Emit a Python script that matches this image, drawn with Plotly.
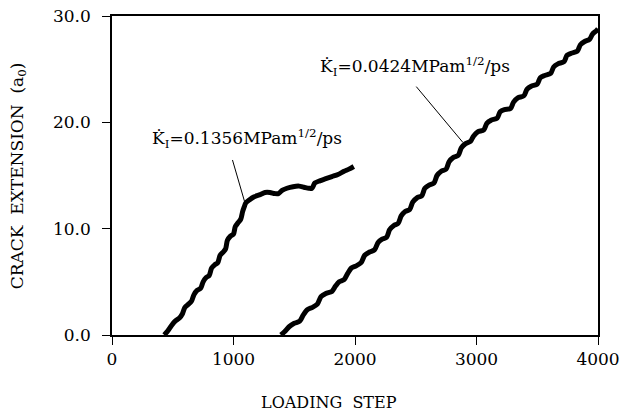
import plotly.graph_objects as go

# Curve 1: Kdot = 0.1356 MPa m^1/2 / ps
x_fast = [430, 460, 490, 520, 555, 580, 600, 630, 655, 675, 700, 730, 750, 775, 800, 820, 845, 870,
          890, 915, 935, 950, 975, 1000, 1015, 1040, 1060, 1075, 1090, 1100,
          1130, 1170, 1220, 1260, 1300, 1340, 1370, 1400, 1440, 1490, 1540, 1580, 1620, 1645,
          1670, 1710, 1760, 1810, 1860, 1910, 1950, 1990]
y_fast = [0.0, 0.4, 0.9, 1.3, 1.6, 2.0, 2.6, 2.9, 3.2, 3.8, 4.2, 4.4, 5.0, 5.4, 5.6, 6.3, 6.6, 6.8,
          7.5, 7.8, 8.1, 8.9, 9.3, 9.5, 10.2, 10.6, 10.9, 11.6, 12.1, 12.4,
          12.7, 13.0, 13.2, 13.4, 13.4, 13.3, 13.3, 13.6, 13.8, 13.95, 14.0, 13.9, 13.8, 13.8,
          14.3, 14.5, 14.7, 14.9, 15.1, 15.4, 15.6, 15.85]

# Curve 2: Kdot = 0.0424 MPa m^1/2 / ps
x_slow = [1390, 1420, 1460, 1500, 1545, 1575, 1610, 1650, 1690, 1720, 1760, 1810, 1840, 1870, 1910,
          1940, 1970, 2010, 2050, 2080, 2120, 2160, 2190, 2220, 2260, 2285, 2320, 2355, 2380, 2410,
          2450, 2475, 2510, 2550, 2575, 2610, 2650, 2675, 2710, 2750, 2775, 2810, 2850, 2875, 2910,
          2950, 2975, 3010, 3060, 3085, 3120, 3170, 3195, 3230, 3280, 3305, 3340, 3390, 3415, 3450,
          3500, 3525, 3560, 3610, 3635, 3670, 3720, 3745, 3780, 3830, 3855, 3890, 3930, 3955, 3985, 4000]
y_slow = [0.0, 0.3, 0.8, 1.1, 1.3, 1.9, 2.4, 2.6, 2.9, 3.6, 3.9, 4.1, 4.6, 5.0, 5.2,
          5.8, 6.3, 6.5, 6.8, 7.5, 7.8, 8.0, 8.7, 9.0, 9.2, 9.9, 10.3, 10.5, 11.2, 11.6,
          11.8, 12.5, 12.9, 13.1, 13.8, 14.1, 14.3, 15.0, 15.4, 15.6, 16.3, 16.7, 16.9, 17.6, 18.0,
          18.2, 18.7, 19.1, 19.3, 19.9, 20.2, 20.4, 21.0, 21.2, 21.3, 21.9, 22.3, 22.5, 23.1, 23.4,
          23.6, 24.2, 24.4, 24.6, 25.2, 25.5, 25.7, 26.3, 26.5, 26.7, 27.3, 27.6, 27.8, 28.3, 28.6, 28.8]

x_ticks = [0, 1000, 2000, 3000, 4000]
y_ticks = [0, 10, 20, 30]

label_fast = "K̇<sub>I</sub>=0.1356MPam<sup>1/2</sup>/ps"
label_slow = "K̇<sub>I</sub>=0.0424MPam<sup>1/2</sup>/ps"
x_title = "LOADING  STEP"
y_title = "CRACK  EXTENSION  (a<sub>0</sub>)"

FONT = "DejaVu Serif"

fig = go.Figure()
for xs, ys in [(x_fast, y_fast), (x_slow, y_slow)]:
    fig.add_trace(go.Scatter(x=xs, y=ys, mode="lines",
                             line=dict(color="black", width=5, shape="spline", smoothing=0.8),
                             showlegend=False, hoverinfo="skip"))

# Leader lines (from label to curve)
fig.add_annotation(x=1095, y=12.4, ax=988, ay=16.6, axref="x", ayref="y",
                   xref="x", yref="y", text="", showarrow=True, arrowhead=0,
                   arrowwidth=1, arrowcolor="black")
fig.add_annotation(x=2889, y=18.1, ax=2494, ay=23.5, axref="x", ayref="y",
                   xref="x", yref="y", text="", showarrow=True, arrowhead=0,
                   arrowwidth=1, arrowcolor="black")

PW, PH = 486, 319.5
fig.add_annotation(x=(150 - 112) / PW, y=(335 - 138) / PH, xref="paper", yref="paper",
                   text=label_fast, showarrow=False, xanchor="left", yanchor="middle",
                   font=dict(family=FONT, size=17, color="black"))
fig.add_annotation(x=(318 - 112) / PW, y=(335 - 66) / PH, xref="paper", yref="paper",
                   text=label_slow, showarrow=False, xanchor="left", yanchor="middle",
                   font=dict(family=FONT, size=17, color="black"))

# Axis titles
fig.add_annotation(x=(329 - 112) / PW, y=(335 - 403) / PH, xref="paper", yref="paper",
                   text=x_title, showarrow=False, xanchor="center", yanchor="middle",
                   font=dict(family=FONT, size=16, color="black"))
fig.add_annotation(x=(18 - 112) / PW, y=(335 - 176) / PH, xref="paper", yref="paper",
                   text=y_title, showarrow=False, xanchor="center", yanchor="middle",
                   textangle=-90, font=dict(family=FONT, size=17, color="black"))

fig.update_layout(
    width=621, height=416,
    margin=dict(l=112, r=23, t=16, b=81, autoexpand=False),
    paper_bgcolor="white", plot_bgcolor="white",
    font=dict(family=FONT, size=17, color="black"),
    xaxis=dict(range=[0, 4000], tickvals=x_ticks, ticktext=[str(v) for v in x_ticks],
               showgrid=False, zeroline=False, showline=True, linecolor="black", linewidth=1.5,
               mirror=True, ticks="outside", ticklen=8, tickcolor="black", automargin=False,
               ticklabeloverflow="allow", tickfont=dict(family=FONT, size=17)),
    yaxis=dict(range=[0, 30], tickvals=y_ticks, ticktext=[f"{v:.1f}" for v in y_ticks],
               showgrid=False, zeroline=False, showline=True, linecolor="black", linewidth=1.5,
               mirror=True, ticks="outside", ticklen=8, tickcolor="black", automargin=False,
               ticklabelstandoff=8,
               ticklabeloverflow="allow", tickfont=dict(family=FONT, size=17)),
)

# Remove the default 8px page margin so the figure fills the window exactly.
fig.write_html("out.html", config={"displayModeBar": False},
               post_script="document.body.style.margin='0';document.body.style.overflow='hidden';")
